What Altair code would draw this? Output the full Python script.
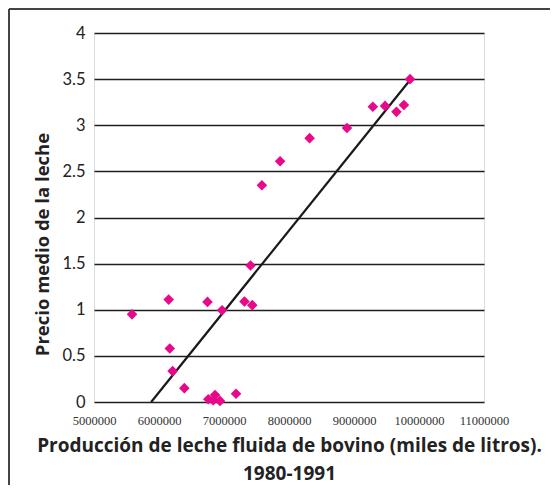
import altair as alt
import pandas as pd

# Data
produccion = [9862000, 9290000, 9478000, 9653000, 9768000, 8892000, 8317000, 7863000, 7583000,
              7408000, 6149000, 6746000, 7315000, 7435000, 6970000, 5585000, 6166000, 6209000,
              6390000, 7185000, 6758000, 6862000, 6835000, 6938000]
precio = [3.50, 3.20, 3.21, 3.145, 3.22, 2.97, 2.86, 2.61, 2.35,
          1.48, 1.11, 1.085, 1.09, 1.05, 0.995, 0.95, 0.58, 0.335,
          0.15, 0.09, 0.03, 0.075, 0.02, 0.012]
trend_x = [5880000, 9850000]
trend_y = [0.0, 3.48]
x_ticks = [5000000, 6000000, 7000000, 8000000, 9000000, 10000000, 11000000]
y_ticks = [0, 0.5, 1, 1.5, 2, 2.5, 3, 3.5, 4]

pts = pd.DataFrame({"x": produccion, "y": precio})
trend = pd.DataFrame({"x": trend_x, "y": trend_y})

xscale = alt.Scale(domain=[5000000, 11000000], nice=False, zero=False)
yscale = alt.Scale(domain=[0, 4], nice=False)

xaxis = alt.Axis(
    values=x_ticks, format="d", grid=False, domain=False, ticks=False,
    labelFont="Liberation Serif", labelFontSize=12.5, labelColor="#333",
    labelPadding=12, labelOverlap=False, labelFlush=False,
    title=["Producción de leche fluida de bovino (miles de litros).", "1980-1991"],
    titleFont="Open Sans", titleFontSize=19, titleFontWeight="bold", titleColor="#222",
    titlePadding=10, titleLineHeight=28,
)
yaxis = alt.Axis(
    values=y_ticks, format="~g", grid=True, gridColor="#1f1f1f", gridWidth=1.5,
    domain=False, ticks=False,
    labelFont="Lato", labelFontSize=16.5, labelColor="#222", labelPadding=9,
    title="Precio medio de la leche",
    titleFont="Open Sans", titleFontSize=18.5, titleFontWeight="bold", titleColor="#222",
    titleX=-52, titleY=211, titleAnchor="middle", titleBaseline="middle",
)

points = alt.Chart(pts).mark_point(
    shape="diamond", filled=True, size=112, color="#E8088A", opacity=1
).encode(
    x=alt.X("x:Q", scale=xscale, axis=xaxis),
    y=alt.Y("y:Q", scale=yscale, axis=yaxis),
)

line = alt.Chart(trend).mark_line(color="#1a1a1a", strokeWidth=2.2).encode(
    x=alt.X("x:Q", scale=xscale),
    y=alt.Y("y:Q", scale=yscale),
)

frame_top = alt.Chart(pts).mark_rule(color="#444", strokeWidth=1.5).encode(
    x=alt.value(-85), x2=alt.value(470), y=alt.value(-24)
)
frame_left = alt.Chart(pts).mark_rule(color="#444", strokeWidth=1.5).encode(
    x=alt.value(-85), y=alt.value(-24), y2=alt.value(480)
)

chart = alt.layer(frame_top, frame_left, line, points).properties(
    width=390, height=369,
    autosize=alt.AutoSizeParams(type="none"),
    padding={"left": 86, "top": 25, "right": 66, "bottom": 83},
).configure_view(stroke=None).configure(background="white")

chart.save("out.html", embed_options={"renderer": "svg", "actions": False})
